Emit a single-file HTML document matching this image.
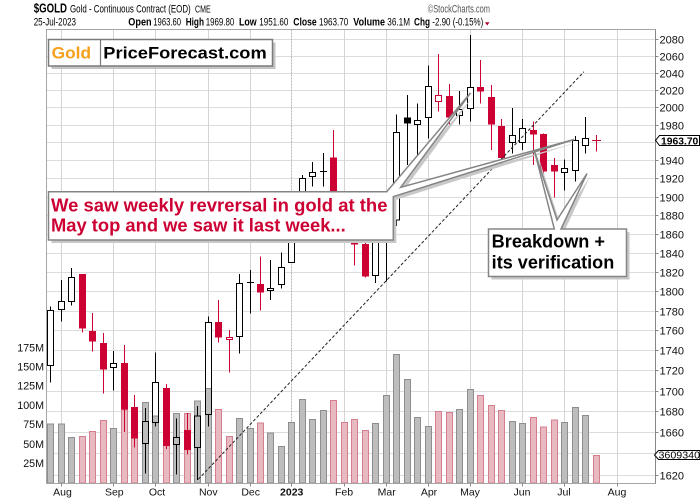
<!DOCTYPE html>
<html><head><meta charset="utf-8"><style>
html,body{margin:0;padding:0;background:#fff}
svg{display:block;font-family:"Liberation Sans",Arial,sans-serif}
.gl{stroke:#dcdcdc;stroke-width:1;fill:none}
.vg{stroke:#d4d4d4;stroke-width:1;fill:none}
.g{fill:#bdbdbd;stroke:#8e8e8e;stroke-width:1}
.p{fill:#e8b9c1;stroke:#d47e8e;stroke-width:1}
.wf{fill:#fff;stroke:none}
.ho{fill:none;stroke:#000;stroke-width:1}
.rho{fill:none;stroke:#cc0033;stroke-width:1}
.wk{stroke:#000;stroke-width:1;fill:none}
.rwk{stroke:#cc0033;stroke-width:1;fill:none}
.rf{fill:#cc0033}
.ax{font-size:11px;fill:#111}
.mo{font-size:10.5px;fill:#111;text-anchor:middle}
.vl{font-size:10.7px;fill:#111;text-anchor:end}
</style></head><body>
<svg width="700" height="500" viewBox="0 0 700 500" xmlns="http://www.w3.org/2000/svg">
<rect x="0" y="0" width="700" height="500" fill="#fff"/>

<!-- header -->
<text x="33.7" y="12.7" font-size="13" font-weight="bold" textLength="33.3" lengthAdjust="spacingAndGlyphs">$GOLD</text>
<text x="70" y="12.5" font-size="11" textLength="120.7" lengthAdjust="spacingAndGlyphs">Gold - Continuous Contract (EOD)</text>
<text x="195" y="12.5" font-size="10" textLength="15.7" lengthAdjust="spacingAndGlyphs">CME</text>
<text x="427.7" y="12.5" font-size="11" fill="#555" textLength="62.3" lengthAdjust="spacingAndGlyphs">©StockCharts.com</text>
<text x="33.7" y="25.7" font-size="11" textLength="42.3" lengthAdjust="spacingAndGlyphs">25-Jul-2023</text>
<g font-size="11">
<text x="128.3" y="25.7" font-weight="bold" textLength="23.3" lengthAdjust="spacingAndGlyphs">Open</text>
<text x="153.3" y="25.7" textLength="27.7" lengthAdjust="spacingAndGlyphs">1963.60</text>
<text x="185.7" y="25.7" font-weight="bold" textLength="18.3" lengthAdjust="spacingAndGlyphs">High</text>
<text x="205.7" y="25.7" textLength="28.6" lengthAdjust="spacingAndGlyphs">1969.80</text>
<text x="239" y="25.7" font-weight="bold" textLength="17.7" lengthAdjust="spacingAndGlyphs">Low</text>
<text x="259.3" y="25.7" textLength="29" lengthAdjust="spacingAndGlyphs">1951.60</text>
<text x="293.3" y="25.7" font-weight="bold" textLength="23.4" lengthAdjust="spacingAndGlyphs">Close</text>
<text x="319" y="25.7" textLength="29.3" lengthAdjust="spacingAndGlyphs">1963.70</text>
<text x="353.3" y="25.7" font-weight="bold" textLength="31.7" lengthAdjust="spacingAndGlyphs">Volume</text>
<text x="387.3" y="25.7" textLength="22.7" lengthAdjust="spacingAndGlyphs">36.1M</text>
<text x="414" y="25.7" font-weight="bold" textLength="16" lengthAdjust="spacingAndGlyphs">Chg</text>
<text x="432.3" y="25.7" textLength="51" lengthAdjust="spacingAndGlyphs">-2.90 (-0.15%)</text>
</g>
<polygon points="485,22.3 489.5,22.3 487.25,25.5" fill="#b0002a"/>

<!-- horizontal grid -->
<path class="gl" d="M46.5 39.5H655.5M46.5 56.5H655.5M46.5 73.5H655.5M46.5 90.5H655.5M46.5 107.5H655.5M46.5 125.5H655.5M46.5 142.5H655.5M46.5 160.5H655.5M46.5 178.5H655.5M46.5 197.5H655.5M46.5 215.5H655.5M46.5 234.5H655.5M46.5 253.5H655.5M46.5 272.5H655.5M46.5 291.5H655.5M46.5 311.5H655.5M46.5 330.5H655.5M46.5 350.5H655.5M46.5 370.5H655.5M46.5 391.5H655.5M46.5 411.5H655.5M46.5 432.5H655.5M46.5 453.5H655.5M46.5 475.5H655.5"/>
<!-- vertical month grid -->
<path class="vg" d="M61.5 29.5V483.5M113.5 29.5V483.5M155.5 29.5V483.5M208.5 29.5V483.5M250.5 29.5V483.5M344.5 29.5V483.5M386.5 29.5V483.5M428.5 29.5V483.5M470.5 29.5V483.5M522.5 29.5V483.5M564.5 29.5V483.5M617.5 29.5V483.5"/>
<path d="M291.5 29.5V483.5" stroke="#b4b4b4" stroke-width="1" stroke-dasharray="2,1" fill="none"/>

<!-- layer 1: white fills of hollow bodies -->
<g class="wf">
<rect x="47.5" y="310.5" width="6" height="55"/>
<rect x="58.5" y="301.5" width="6" height="8"/>
<rect x="68.5" y="277.5" width="6" height="24"/>
<rect x="110.5" y="363.5" width="6" height="4"/>
<rect x="142.5" y="421.5" width="6" height="22"/>
<rect x="152.5" y="382.5" width="6" height="40"/>
<rect x="173.5" y="437.5" width="6" height="7"/>
<rect x="194.5" y="416" width="6" height="31.5"/>
<rect x="205.5" y="322.5" width="6" height="92"/>
<rect x="226.5" y="337.5" width="6" height="2"/>
<rect x="236.5" y="283.5" width="6" height="53"/>
<rect x="267.5" y="288.5" width="6" height="2"/>
<rect x="278.5" y="267.5" width="6" height="17"/>
<rect x="288.5" y="226" width="6" height="36.5"/>
<rect x="299.5" y="178.5" width="6" height="47.5"/>
<rect x="309.5" y="172.5" width="6" height="4"/>
<rect x="372.5" y="240" width="6" height="35.5"/>
<rect x="383.5" y="227.5" width="6" height="11"/>
<rect x="393.5" y="132.5" width="6" height="87.5"/>
<rect x="414.5" y="120.5" width="6" height="4"/>
<rect x="425.5" y="86.5" width="6" height="31"/>
<rect x="435.5" y="95.5" width="6" height="6"/>
<rect x="456.5" y="109.5" width="6" height="6"/>
<rect x="467.5" y="87.5" width="6" height="21"/>
<rect x="509.5" y="135.5" width="6" height="7"/>
<rect x="519.5" y="128.5" width="6" height="14"/>
<rect x="561.5" y="168.5" width="6" height="4"/>
<rect x="572.5" y="140.5" width="6" height="30"/>
<rect x="582.5" y="138.5" width="6" height="7"/>
</g>

<!-- layer 2: volume bars -->
<g>
<rect class="g" x="47.5" y="424" width="6" height="59"/>
<rect class="g" x="58.5" y="424" width="6" height="59"/>
<rect class="g" x="68.5" y="437.5" width="6" height="45.5"/>
<rect class="p" x="79.5" y="436.5" width="6" height="46.5"/>
<rect class="p" x="89.5" y="431.5" width="6" height="51.5"/>
<rect class="p" x="100.5" y="420.5" width="6" height="62.5"/>
<rect class="g" x="110.5" y="428.5" width="6" height="54.5"/>
<rect class="p" x="121.5" y="410" width="6" height="73"/>
<rect class="p" x="131.5" y="410" width="6" height="73"/>
<rect class="g" x="142.5" y="402.5" width="6" height="80.5"/>
<rect class="g" x="152.5" y="416" width="6" height="67"/>
<rect class="p" x="163.5" y="415" width="6" height="68"/>
<rect class="g" x="173.5" y="413.5" width="6" height="69.5"/>
<rect class="p" x="184.5" y="413.5" width="6" height="69.5"/>
<rect class="g" x="194.5" y="401" width="6" height="82"/>
<rect class="g" x="205.5" y="388.5" width="6" height="94.5"/>
<rect class="p" x="215.5" y="409.5" width="6" height="73.5"/>
<rect class="p" x="226.5" y="436.5" width="6" height="46.5"/>
<rect class="g" x="236.5" y="418.5" width="6" height="64.5"/>
<rect class="g" x="247.5" y="428.5" width="6" height="54.5"/>
<rect class="p" x="257.5" y="423" width="6" height="60"/>
<rect class="g" x="267.5" y="433" width="6" height="50"/>
<rect class="g" x="278.5" y="446.5" width="6" height="36.5"/>
<rect class="g" x="288.5" y="422.5" width="6" height="60.5"/>
<rect class="g" x="299.5" y="399.5" width="6" height="83.5"/>
<rect class="g" x="309.5" y="419.5" width="6" height="63.5"/>
<rect class="g" x="320.5" y="410.5" width="6" height="72.5"/>
<rect class="p" x="330.5" y="400.5" width="6" height="82.5"/>
<rect class="p" x="341.5" y="422.5" width="6" height="60.5"/>
<rect class="p" x="351.5" y="419.5" width="6" height="63.5"/>
<rect class="p" x="362.5" y="430.5" width="6" height="52.5"/>
<rect class="g" x="372.5" y="423.5" width="6" height="59.5"/>
<rect class="g" x="383.5" y="395.5" width="6" height="87.5"/>
<rect class="g" x="393.5" y="354.5" width="6" height="128.5"/>
<rect class="g" x="404.5" y="379.5" width="6" height="103.5"/>
<rect class="g" x="414.5" y="417.5" width="6" height="65.5"/>
<rect class="g" x="425.5" y="426.5" width="6" height="56.5"/>
<rect class="p" x="435.5" y="411.5" width="6" height="71.5"/>
<rect class="p" x="446.5" y="412.5" width="6" height="70.5"/>
<rect class="g" x="456.5" y="409.5" width="6" height="73.5"/>
<rect class="g" x="467.5" y="389.5" width="6" height="93.5"/>
<rect class="p" x="477.5" y="395.5" width="6" height="87.5"/>
<rect class="p" x="488.5" y="405.5" width="6" height="77.5"/>
<rect class="p" x="498.5" y="410.5" width="6" height="72.5"/>
<rect class="g" x="509.5" y="421.5" width="6" height="61.5"/>
<rect class="g" x="519.5" y="423.5" width="6" height="59.5"/>
<rect class="p" x="530.5" y="417.5" width="6" height="65.5"/>
<rect class="p" x="540.5" y="427" width="6" height="56"/>
<rect class="p" x="551.5" y="420" width="6" height="63"/>
<rect class="g" x="561.5" y="422.5" width="6" height="60.5"/>
<rect class="g" x="572.5" y="407.5" width="6" height="75.5"/>
<rect class="g" x="582.5" y="415.5" width="6" height="67.5"/>
<rect class="p" x="593.5" y="455.5" width="6" height="27.5"/>
</g>

<!-- layer 3: candle outlines, wicks, filled bodies -->
<path class="wk" d="M50.5 306.5V310.5M50.5 365.5V382.5M61.5 280V301.5M61.5 309.5V321.5M71.5 268V277.5M71.5 301.5V305.5M113.5 351V363.5M113.5 367.5V390.5M145.5 408V421.5M145.5 443.5V473.5M155.5 352.5V382.5M155.5 422.5V426.5M176.5 418.5V437.5M176.5 444.5V474.5M197.5 406V416M197.5 447.5V480M208.5 316.5V322.5M208.5 414.5V426.5M239.5 274V283.5M239.5 336.5V353.5M270.5 260V288.5M270.5 290.5V300M281.5 252.5V267.5M281.5 284.5V288.5M291.5 224V226M291.5 262.5V263M302.5 175V178.5M302.5 226V228M312.5 162V172.5M312.5 176.5V186.5M375.5 236V240M375.5 275.5V283M386.5 224V227.5M386.5 238.5V281.5M396.5 114.5V132.5M396.5 220V226M417.5 103.5V120.5M417.5 124.5V155M428.5 65.5V86.5M428.5 117.5V138.5M459.5 91V109.5M459.5 115.5V124.5M470.5 35V87.5M470.5 108.5V121.5M512.5 108V135.5M512.5 142.5V153.5M522.5 119V128.5M522.5 142.5V150M564.5 159.5V168.5M564.5 172.5V190.5M575.5 136V140.5M575.5 170.5V181.5M585.5 117V138.5M585.5 145.5V153.5M250.5 270V313.5M247 282.5H254M323.5 153V186.5M320 171.5H327M407.5 95V165"/>
<g class="ho">
<rect x="47.5" y="310.5" width="6" height="55"/>
<rect x="58.5" y="301.5" width="6" height="8"/>
<rect x="68.5" y="277.5" width="6" height="24"/>
<rect x="110.5" y="363.5" width="6" height="4"/>
<rect x="142.5" y="421.5" width="6" height="22"/>
<rect x="152.5" y="382.5" width="6" height="40"/>
<rect x="173.5" y="437.5" width="6" height="7"/>
<rect x="194.5" y="416" width="6" height="31.5"/>
<rect x="205.5" y="322.5" width="6" height="92"/>
<rect x="236.5" y="283.5" width="6" height="53"/>
<rect x="267.5" y="288.5" width="6" height="2"/>
<rect x="278.5" y="267.5" width="6" height="17"/>
<rect x="288.5" y="226" width="6" height="36.5"/>
<rect x="299.5" y="178.5" width="6" height="47.5"/>
<rect x="309.5" y="172.5" width="6" height="4"/>
<rect x="372.5" y="240" width="6" height="35.5"/>
<rect x="383.5" y="227.5" width="6" height="11"/>
<rect x="393.5" y="132.5" width="6" height="87.5"/>
<rect x="414.5" y="120.5" width="6" height="4"/>
<rect x="425.5" y="86.5" width="6" height="31"/>
<rect x="456.5" y="109.5" width="6" height="6"/>
<rect x="467.5" y="87.5" width="6" height="21"/>
<rect x="509.5" y="135.5" width="6" height="7"/>
<rect x="519.5" y="128.5" width="6" height="14"/>
<rect x="561.5" y="168.5" width="6" height="4"/>
<rect x="572.5" y="140.5" width="6" height="30"/>
<rect x="582.5" y="138.5" width="6" height="7"/>
</g>
<rect x="404" y="117.5" width="7" height="6" fill="#000"/>
<path class="rwk" d="M229.5 330V337.5M229.5 339.5V372.5M438.5 54V95.5M438.5 101.5V111.5M596.5 135V151.5M592 140.5H601M82.5 274V332.5M92.5 313V351.5M103.5 333V393.5M124.5 345V432M134.5 395V447.5M166.5 384V449M187.5 413V454.5M218.5 300V342.5M260.5 256.5V310.5M333.5 130V222M344.5 205V235M354.5 230V265.5M365.5 240V277.5M449.5 84V125.5M480.5 60V103.5M491.5 85V150M501.5 119V166M533.5 121.5V165M543.5 133.5V176.5M554.5 158V197.5"/>
<g class="rho">
<rect x="226.5" y="337.5" width="6" height="2"/>
<rect x="435.5" y="95.5" width="6" height="6"/>
</g>
<g class="rf">
<rect x="79" y="274" width="7" height="54.5"/>
<rect x="89" y="331" width="7" height="10.5"/>
<rect x="100" y="343" width="7" height="26.5"/>
<rect x="121" y="363" width="7" height="46.5"/>
<rect x="131" y="407" width="7" height="31.5"/>
<rect x="163" y="388" width="7" height="58"/>
<rect x="184" y="430" width="7" height="20"/>
<rect x="215" y="322" width="7" height="15.5"/>
<rect x="257" y="284" width="7" height="8.5"/>
<rect x="330" y="157.5" width="7" height="61"/>
<rect x="341" y="215" width="7" height="4"/>
<rect x="351" y="232" width="7" height="12.5"/>
<rect x="362" y="244" width="7" height="32.5"/>
<rect x="446" y="96" width="7" height="21.5"/>
<rect x="477" y="87" width="7" height="4.5"/>
<rect x="488" y="97" width="7" height="27.5"/>
<rect x="498" y="126" width="7" height="32"/>
<rect x="530" y="130" width="7" height="4.5"/>
<rect x="540" y="134" width="7" height="37.5"/>
<rect x="551" y="165" width="7" height="6.5"/>
</g>

<!-- trend line -->
<path d="M198.3 479.3L584 71.7" stroke="#222" stroke-width="1" stroke-dasharray="3,2" fill="none"/>

<!-- frame -->
<rect x="46.5" y="29.5" width="609" height="454" fill="none" stroke="#a6a6a6" stroke-width="1"/>
<path d="M655.5 29.5V483.5" stroke="#888" stroke-width="1"/>
<path d="M655.5 39.5h3M655.5 56.5h3M655.5 73.5h3M655.5 90.5h3M655.5 107.5h3M655.5 125.5h3M655.5 160.5h3M655.5 178.5h3M655.5 197.5h3M655.5 215.5h3M655.5 234.5h3M655.5 253.5h3M655.5 272.5h3M655.5 291.5h3M655.5 311.5h3M655.5 330.5h3M655.5 350.5h3M655.5 370.5h3M655.5 391.5h3M655.5 411.5h3M655.5 432.5h3M655.5 475.5h3M61.5 483.5v3M113.5 483.5v3M155.5 483.5v3M208.5 483.5v3M250.5 483.5v3M291.5 483.5v3M344.5 483.5v3M386.5 483.5v3M428.5 483.5v3M470.5 483.5v3M522.5 483.5v3M564.5 483.5v3M617.5 483.5v3" stroke="#888" stroke-width="1" fill="none"/>

<!-- logo box -->
<rect x="51.5" y="42.5" width="224" height="26.5" fill="#c4c4c4"/>
<rect x="48.5" y="39.5" width="224" height="26.5" fill="#fff" stroke="#7a7a7a" stroke-width="1.5"/>
<path d="M100.5 39.5V66" stroke="#7a7a7a" stroke-width="1.2"/>
<text x="51.7" y="58.3" font-size="17" font-weight="bold" fill="#f5a01a" textLength="39.3" lengthAdjust="spacingAndGlyphs">Gold</text>
<text x="103.3" y="58.3" font-size="17" font-weight="bold" fill="#000" textLength="163.4" lengthAdjust="spacingAndGlyphs">PriceForecast.com</text>

<!-- callout 1 -->
<path d="M48.5 191.7H386.7L470.5 93L400.7 187.3L574 139.5L393.3 196.7V240H48.5Z" fill="#c8c8c8" transform="translate(3,3)"/>
<path d="M48.5 191.7H386.7L470.5 93L400.7 187.3L574 139.5L393.3 196.7V240H48.5Z" fill="#fff" stroke="#858585" stroke-width="1.5" stroke-linejoin="miter"/>
<text x="51" y="211.5" font-size="18" font-weight="bold" fill="#cc0033" textLength="336.5" lengthAdjust="spacingAndGlyphs">We saw weekly revrersal in gold at the</text>
<text x="51" y="231.5" font-size="18" font-weight="bold" fill="#cc0033" textLength="294.7" lengthAdjust="spacingAndGlyphs">May top and we saw it last week...</text>

<!-- callout 2 -->
<path d="M488.5 229H554.3L534.5 151L557 220L587 173.5L561 229H626.5V276.5H488.5Z" fill="#c8c8c8" transform="translate(3,3)"/>
<path d="M488.5 229H554.3L534.5 151L557 220L587 173.5L561 229H626.5V276.5H488.5Z" fill="#fff" stroke="#858585" stroke-width="1.5"/>
<text x="491.7" y="247.7" font-size="18" font-weight="bold" fill="#000" textLength="113.3" lengthAdjust="spacingAndGlyphs">Breakdown +</text>
<text x="491.7" y="268.3" font-size="18" font-weight="bold" fill="#000" textLength="122.6" lengthAdjust="spacingAndGlyphs">its verification</text>

<!-- price axis labels -->
<g class="ax">
<text x="659.5" y="43.5">2080</text>
<text x="659.5" y="60.5">2060</text>
<text x="659.5" y="77.5">2040</text>
<text x="659.5" y="94.5">2020</text>
<text x="659.5" y="111.5">2000</text>
<text x="659.5" y="129.5">1980</text>
<text x="659.5" y="164.5">1940</text>
<text x="659.5" y="182.5">1920</text>
<text x="659.5" y="201.5">1900</text>
<text x="659.5" y="219.5">1880</text>
<text x="659.5" y="238.5">1860</text>
<text x="659.5" y="257.5">1840</text>
<text x="659.5" y="276.5">1820</text>
<text x="659.5" y="295.5">1800</text>
<text x="659.5" y="315.5">1780</text>
<text x="659.5" y="334.5">1760</text>
<text x="659.5" y="354.5">1740</text>
<text x="659.5" y="374.5">1720</text>
<text x="659.5" y="395.5">1700</text>
<text x="659.5" y="415.5">1680</text>
<text x="659.5" y="436.5">1660</text>
<text x="659.5" y="479.5">1620</text>
</g>

<!-- price tag -->
<path d="M655.5 140.3L659.5 135.5H699.5V145.5H659.5Z" fill="#fff" stroke="#000" stroke-width="1"/>
<text x="661" y="144.3" font-size="10.5" font-weight="bold" textLength="37.3" lengthAdjust="spacingAndGlyphs">1963.70</text>
<!-- volume tag -->
<path d="M654.5 455L658.5 450.5H700V459.5H658.5Z" fill="#fff" stroke="#000" stroke-width="1"/>
<text x="658.5" y="458.6" font-size="10" textLength="41.5" lengthAdjust="spacingAndGlyphs">3609340</text>

<!-- volume labels -->
<g class="vl">
<text x="44" y="351.3">175M</text>
<text x="44" y="370.3">150M</text>
<text x="44" y="389.3">125M</text>
<text x="44" y="408.8">100M</text>
<text x="44" y="428">75M</text>
<text x="44" y="447.8">50M</text>
<text x="44" y="467">25M</text>
</g>

<!-- month labels -->
<g class="mo">
<text x="62.5" y="495.5">Aug</text>
<text x="114.3" y="495.5">Sep</text>
<text x="157" y="495.5">Oct</text>
<text x="208.3" y="495.5">Nov</text>
<text x="250.7" y="495.5">Dec</text>
<text x="291.7" y="495.5" font-weight="bold">2023</text>
<text x="344" y="495.5">Feb</text>
<text x="386.7" y="495.5">Mar</text>
<text x="429" y="495.5">Apr</text>
<text x="470" y="495.5">May</text>
<text x="522" y="495.5">Jun</text>
<text x="564" y="495.5">Jul</text>
<text x="617" y="495.5">Aug</text>
</g>
</svg>
</body></html>
